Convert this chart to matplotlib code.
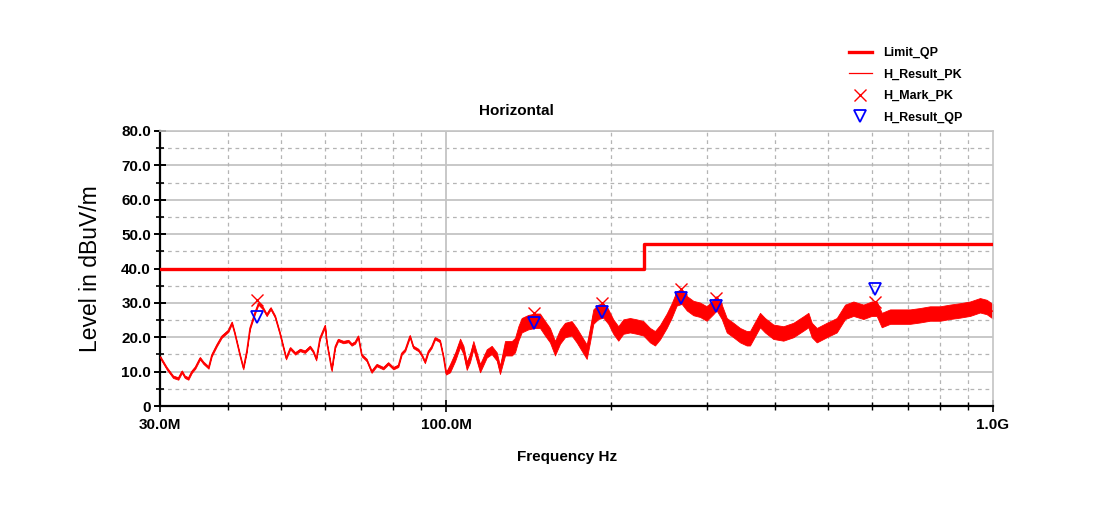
import numpy as np
import matplotlib
matplotlib.use("Agg")
import matplotlib.pyplot as plt
from matplotlib.ticker import FixedLocator, FixedFormatter, NullFormatter

# ---------------- data (MHz, dBuV/m) ----------------
trace_freq = [30.0, 30.86, 31.7, 32.4, 32.9, 33.3, 33.8, 34.3, 34.8, 35.5, 36.0, 36.8, 37.3, 38.1,
              38.9, 40.0, 40.6, 41.1, 42.0, 42.6, 43.2, 43.8, 44.8, 45.4, 46.3, 47.0, 47.8, 48.7,
              49.7, 50.4, 51.0, 51.9, 53.0, 54.1, 55.2, 56.4, 57.2, 57.9, 58.8, 60.1, 60.5, 61.8,
              62.7, 63.5, 64.9, 66.3, 67.2, 68.2, 69.1, 70.1, 71.6, 73.1, 74.7, 76.8, 78.4, 80.1,
              81.8, 83.0, 84.2, 85.9, 87.1, 89.0, 90.3, 91.5, 92.8, 94.1, 95.5, 97.5, 98.9, 100.0,
              101.7, 103.9, 106.1, 107.6, 109.1, 110.6, 112.2, 115.4, 118.7, 121.2, 123.8, 125.5,
              128.2, 131.9, 133.7, 135.6, 137.5, 141.4, 145.5, 148.5, 151.7, 154.9, 158.2, 161.6,
              165.0, 169.7, 173.3, 177.0, 180.8, 183.3, 185.9, 189.8, 193.9, 198.0, 202.2, 206.5,
              210.9, 216.9, 223.2, 229.5, 236.0, 241.0, 246.2, 253.2, 258.6, 264.0, 269.7, 275.5,
              283.2, 291.3, 299.6, 308.0, 312.4, 319.2, 326.0, 335.2, 344.8, 354.6, 359.5, 375.0,
              382.9, 396.6, 413.7, 431.5, 450.1, 459.7, 466.3, 476.2, 496.6, 518.0, 536.5, 555.6,
              579.4, 600.1, 612.8, 626.0, 648.3, 676.3, 705.1, 735.5, 767.0, 800.0, 834.3, 870.2,
              907.7, 946.7, 973.7, 1000.0]
trace_level = [14.3, 11.0, 8.5, 8.0, 10.0, 8.5, 8.0, 10.0, 11.2, 13.9, 12.6, 11.2, 14.8, 17.7,
               20.2, 21.9, 24.2, 21.1, 14.8, 11.0, 15.8, 22.6, 27.4, 29.8, 28.4, 26.5, 28.4, 26.0,
               21.1, 17.2, 13.9, 16.8, 15.3, 16.3, 15.8, 17.2, 15.8, 13.6, 19.7, 23.3, 18.7, 10.5,
               17.2, 19.2, 18.6, 18.9, 17.9, 18.5, 20.2, 14.8, 13.4, 10.0, 11.9, 11.0, 12.4, 11.0,
               11.7, 15.3, 16.3, 20.3, 17.2, 16.3, 14.8, 12.8, 15.8, 17.2, 19.7, 18.9, 14.3, 9.5,
               11.0, 14.3, 18.4, 16.3, 11.7, 13.9, 17.7, 11.0, 15.3, 16.3, 14.4, 10.5,
               16.8, 16.8, 17.7, 21.1, 23.5, 24.4, 24.8, 24.8, 22.6, 20.6, 16.8, 20.2,
               22.1, 22.6, 20.6, 18.2, 15.8, 20.6, 26.0, 27.4, 27.8, 26.0, 23.1, 21.1,
               23.1, 23.5, 23.1, 22.6, 20.6, 19.7, 21.5, 24.8, 27.8, 31.3, 31.8, 29.9,
               28.5, 28.0, 26.9, 28.8, 29.9, 27.4, 23.5, 22.1, 20.6, 19.7, 19.7, 25.0,
               23.5, 21.6, 21.1, 22.1, 24.0, 25.0, 22.1, 20.6, 22.1, 23.5, 27.4, 28.3,
               27.4, 28.3, 28.3, 25.0, 26.0, 26.0, 26.0, 26.4, 26.9, 26.9, 27.4, 27.8,
               28.3, 29.3, 28.8, 27.5]
# half-width of the dense noise band seen around the trace (one value per trace point)
trace_spread = [0.35] * 70 + [1.2] * 12 + [2.1] * 76

limit_freq = [30.0, 230.0, 1000.0]
limit_level = [40.0, 47.0, 47.0]

mark_freq = [45.1, 144.8, 193.2, 268.4, 311.3, 608.0]
mark_pk = [30.8, 27.2, 30.0, 34.0, 31.5, 30.3]
mark_qp = [26.0, 24.2, 27.4, 31.5, 29.2, 33.9]

y_ticks = [0, 10, 20, 30, 40, 50, 60, 70, 80]
y_labels = ["0", "10.0", "20.0", "30.0", "40.0", "50.0", "60.0", "70.0", "80.0"]
x_major = [30, 100, 1000]
x_labels = ["30.0M", "100.0M", "1.0G"]
x_minor = [40, 50, 60, 70, 80, 90, 200, 300, 400, 500, 600, 700, 800, 900]

# ---------------- figure ----------------
FONT = ["Liberation Sans", "DejaVu Sans"]
plt.rcParams["font.family"] = FONT
RED = "#ff0000"
BLUE = "#0000ff"

fig = plt.figure(figsize=(11.10, 5.12), dpi=100)
ax = fig.add_axes([160 / 1110, 1 - 406 / 512, (993 - 160) / 1110, (406 - 131) / 512])
ax.set_xscale("log")
ax.set_xlim(30, 1000)
ax.set_ylim(0, 80)

# grid
for yv in range(10, 81, 10):
    ax.axhline(yv, color="#c4c4c4", lw=1.3, zorder=0)
for yv in range(5, 80, 10):
    ax.axhline(yv, color="#b4b4b4", lw=0.9, ls=(0, (3, 3)), zorder=0)
for xv in x_minor:
    ax.axvline(xv, color="#b4b4b4", lw=0.9, ls=(0, (3, 3)), zorder=0)
ax.axvline(100, color="#c4c4c4", lw=1.3, zorder=0)

# data
tf = np.array(trace_freq)
tl = np.array(trace_level)
ts = np.array(trace_spread)
ax.fill_between(tf, tl - ts, tl + ts, color=RED, lw=0.6, edgecolor=RED, zorder=2)
pk_line, = ax.plot(tf, tl, color=RED, lw=0.9, zorder=3, label="H_Result_PK")
lim_line, = ax.plot(limit_freq, limit_level, color=RED, lw=2.4, drawstyle="steps-post",
                    zorder=4, label="Limit_QP")
mk_pk, = ax.plot(mark_freq, mark_pk, ls="none", marker="x", ms=8, mew=1.0, color=RED,
                 zorder=5, label="H_Mark_PK")
mk_qp, = ax.plot(mark_freq, mark_qp, ls="none", marker="v", ms=8, mew=1.3, mfc="none",
                 mec=BLUE, zorder=6, label="H_Result_QP")

# axes styling
for s in ("top", "right"):
    ax.spines[s].set_color("#c4c4c4")
    ax.spines[s].set_linewidth(1.2)
for s in ("left", "bottom"):
    ax.spines[s].set_color("black")
    ax.spines[s].set_linewidth(1.6)

ax.yaxis.set_major_locator(FixedLocator(y_ticks))
ax.yaxis.set_major_formatter(FixedFormatter(y_labels))
ax.yaxis.set_minor_locator(FixedLocator([5, 15, 25, 35, 45, 55, 65, 75]))
ax.xaxis.set_major_locator(FixedLocator(x_major))
ax.xaxis.set_major_formatter(FixedFormatter(x_labels))
ax.xaxis.set_minor_locator(FixedLocator(x_minor))
ax.xaxis.set_minor_formatter(NullFormatter())

ax.tick_params(axis="y", which="major", direction="inout", length=9, width=1.4, pad=2,
               labelsize=11, right=False)
ax.tick_params(axis="y", which="minor", direction="inout", length=6, width=1.2, right=False)
ax.tick_params(axis="x", which="major", direction="inout", length=9, width=1.2, pad=4,
               labelsize=11, top=False)
ax.tick_params(axis="x", which="minor", direction="inout", length=6, width=1.0, top=False)
for lab in ax.get_xticklabels() + ax.get_yticklabels():
    lab.set_fontweight("bold")

ax.set_ylabel("Level in dBuV/m", fontsize=16.5, labelpad=14)
fig.text(567 / 1110, 1 - 457 / 512, "Frequency Hz", ha="center", va="center",
         fontsize=11, fontweight="bold")
fig.text(516 / 1110, 1 - 111 / 512, "Horizontal", ha="center", va="center",
         fontsize=11, fontweight="bold")

fig.legend(handles=[lim_line, pk_line, mk_pk, mk_qp], loc="upper left",
           bbox_to_anchor=(849 / 1110, 1 - 47 / 512), frameon=False,
           prop={"weight": "bold", "size": 9}, handlelength=1.8, handletextpad=0.9,
           labelspacing=0.76, borderpad=0, borderaxespad=0, numpoints=1)

fig.savefig("out.png", dpi=100, facecolor="white")
